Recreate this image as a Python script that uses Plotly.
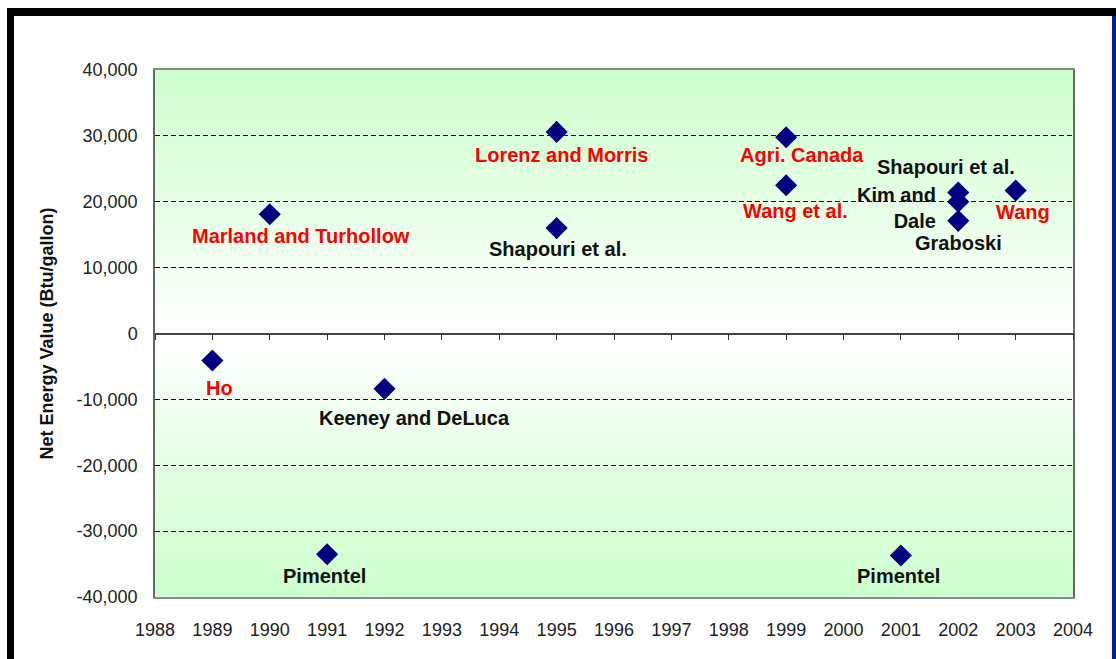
import base64
import struct
import zlib

import plotly.graph_objects as go

# Net energy value of corn ethanol by study and publication year
studies = ["Ho", "Marland and Turhollow", "Pimentel", "Keeney and DeLuca",
           "Lorenz and Morris", "Shapouri et al.", "Agri. Canada", "Wang et al.",
           "Pimentel", "Shapouri et al.", "Kim and<br>Dale", "Graboski", "Wang"]
years = [1989, 1990, 1991, 1992, 1995, 1995, 1999, 1999, 2001, 2002, 2002, 2002, 2003]
net_energy = [-4100, 18100, -33500, -8400, 30600, 16000, 29800, 22500,
              -33700, 21400, 20000, 17100, 21700]
year_ticks = list(range(1988, 2005))
value_ticks = list(range(-40000, 40001, 10000))
value_tick_text = ["-40,000", "-30,000", "-20,000", "-10,000", "0",
                   "10,000", "20,000", "30,000", "40,000"]

# label styling: colour and pixel offset (dx right, dy down) from each marker
label_colors = ["#ff0000", "#ff0000", "#111111", "#111111", "#ff0000", "#111111",
                "#ff0000", "#ff0000", "#111111", "#111111", "#111111", "#111111", "#ff0000"]
label_offsets = [(7, 27), (31, 22), (-3, 22), (30, 29), (5, 23), (1, 21), (16, 18),
                 (9, 26), (-2, 20), (-12, -26), (-20, 6), (0, 22), (7, 21)]
label_anchor = ["center"] * 10 + ["right"] + ["center"] * 2

W, H = 1116, 659
ML, MR, MT, MB = 155, 43, 70, 62
PW, PH = W - ML - MR, H - MT - MB


def px_x(p):
    return (p - ML) / PW


def px_y(p):
    return (H - MB - p) / PH


def gradient_png(top, mid, n=256):
    """Vertical gradient image: top colour -> mid colour -> top colour."""
    rows = b""
    for i in range(n):
        t = abs(i / (n - 1) - 0.5) * 2
        c = bytes(int(round(m + (a - m) * t)) for a, m in zip(top, mid))
        rows += b"\x00" + c * 4
    def chunk(tag, data):
        return (struct.pack(">I", len(data)) + tag + data
                + struct.pack(">I", zlib.crc32(tag + data) & 0xffffffff))
    png = b"\x89PNG\r\n\x1a\n"
    png += chunk(b"IHDR", struct.pack(">IIBBBBB", 4, n, 8, 2, 0, 0, 0))
    png += chunk(b"IDAT", zlib.compress(rows, 9))
    png += chunk(b"IEND", b"")
    return "data:image/png;base64," + base64.b64encode(png).decode()


FONT = "Arial, Liberation Sans, sans-serif"

fig = go.Figure()
fig.add_trace(go.Scatter(
    x=years, y=net_energy, mode="markers",
    marker=dict(symbol="diamond", size=17, color="#000080"),
    hoverinfo="x+y", showlegend=False,
))
# same points on the overlay axis so the zero-crossing axis is drawn
fig.add_trace(go.Scatter(
    x=years, y=net_energy, xaxis="x2", mode="markers",
    marker=dict(opacity=0), hoverinfo="skip", showlegend=False,
))

for name, yr, val, col, (dx, dy), anc in zip(studies, years, net_energy,
                                              label_colors, label_offsets, label_anchor):
    fig.add_annotation(
        x=yr, y=val, xref="x", yref="y", text=f"<b>{name}</b>", showarrow=False,
        xshift=dx, yshift=-dy, xanchor=anc, align="right" if anc == "right" else "center",
        font=dict(family=FONT, size=20, color=col),
    )

fig.update_layout(
    width=W, height=H,
    margin=dict(l=ML, r=MR, t=MT, b=MB, autoexpand=False),
    paper_bgcolor="white", plot_bgcolor="#e8ffe8",
    font=dict(family=FONT, size=18, color="#222222"),
    xaxis=dict(
        range=[1988, 2004], tickvals=year_ticks, tickformat="d",
        showgrid=False, zeroline=False, ticks="",
        showline=True, linecolor="#888888", linewidth=1.5, mirror=True,
        ticklabelstandoff=16, tickfont=dict(size=18, color="#222222"),
    ),
    xaxis2=dict(
        range=[1988, 2004], tickvals=year_ticks, overlaying="x", anchor="free",
        position=0.5, side="bottom", showticklabels=False, showgrid=False,
        zeroline=False, ticks="outside", ticklen=6, tickcolor="#333333",
        showline=True, linecolor="#444444", linewidth=1.5,
    ),
    yaxis=dict(
        range=[-40000, 40000], tickvals=value_ticks, ticktext=value_tick_text,
        showgrid=True, gridcolor="#111111", griddash="5px,3px", gridwidth=1,
        zeroline=False, ticks="",
        showline=True, linecolor="#666666", linewidth=1.5, mirror=True,
        ticklabelstandoff=12, tickfont=dict(size=18, color="#222222"),
        title=dict(text="<b>Net Energy Value (Btu/gallon)</b>", standoff=18,
                   font=dict(size=18, color="#111111")),
    ),
    images=[dict(
        source=gradient_png((204, 255, 204), (255, 255, 255)),
        xref="x", yref="y", x=1988, y=40000, sizex=16, sizey=80000,
        sizing="stretch", xanchor="left", yanchor="top", layer="below",
    )],
    shapes=[
        # black frame along the top and left edges
        dict(type="rect", xref="paper", yref="paper", x0=px_x(7), x1=px_x(W),
             y0=px_y(16), y1=px_y(8), fillcolor="black", line=dict(width=0)),
        dict(type="rect", xref="paper", yref="paper", x0=px_x(7), x1=px_x(14),
             y0=px_y(H), y1=px_y(8), fillcolor="black", line=dict(width=0)),
        # blue rule on the right edge
        dict(type="rect", xref="paper", yref="paper", x0=px_x(1112), x1=px_x(W),
             y0=px_y(H), y1=px_y(16), fillcolor="#0b1f8c", line=dict(width=0)),
    ],
)

fig.write_html("out.html")
